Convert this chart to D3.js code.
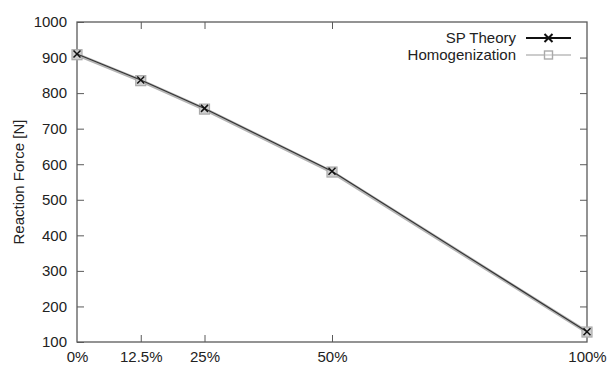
<!DOCTYPE html>
<html>
<head>
<meta charset="utf-8">
<script src="https://cdn.jsdelivr.net/npm/d3@7"></script>
<style>
  html, body { margin: 0; padding: 0; background: #fff; }
  svg { display: block; font-family: "Liberation Sans", Arial, sans-serif; }
</style>
</head>
<body>
<svg id="chart" width="611" height="365"></svg>
<script>
// Reaction force versus percentage
const xCategories = [0, 12.5, 25, 50, 100];
const xTickLabels = ["0%", "12.5%", "25%", "50%", "100%"];
const yTicks = [100, 200, 300, 400, 500, 600, 700, 800, 900, 1000];
const spTheory = [910, 837, 757, 580, 129];
const homogenization = [908, 835, 755, 578, 128];

const svg = d3.select("#chart");
const m = { left: 77, right: 587, top: 22, bottom: 342 };
const x = d3.scaleLinear().domain([0, 100]).range([m.left, m.right]);
const y = d3.scaleLinear().domain([100, 1000]).range([m.bottom, m.top]);
const frameColor = "#5a5a5a";
const tickLen = 7;

// Frame
svg.append("rect")
  .attr("x", m.left).attr("y", m.top)
  .attr("width", m.right - m.left).attr("height", m.bottom - m.top)
  .attr("fill", "none").attr("stroke", frameColor).attr("stroke-width", 1.3);

// Y axis ticks (mirrored on right) and labels
const yAxis = d3.axisLeft(y).tickValues(yTicks).tickSize(-tickLen).tickPadding(10)
  .tickFormat(d3.format("d"));
const gy = svg.append("g").attr("transform", `translate(${m.left},0)`).call(yAxis);
gy.select(".domain").remove();
gy.selectAll(".tick line").attr("stroke", frameColor);
gy.selectAll(".tick text").attr("font-size", 15).attr("fill", "#222")
  .attr("font-family", "Liberation Sans, Arial, sans-serif");

const gyR = svg.append("g").attr("transform", `translate(${m.right},0)`)
  .call(d3.axisRight(y).tickValues(yTicks.slice(1, -1)).tickSize(-tickLen).tickFormat(""));
gyR.select(".domain").remove();
gyR.selectAll(".tick line").attr("stroke", frameColor);

// X axis ticks (mirrored on top) and labels
const gx = svg.append("g").attr("transform", `translate(0,${m.bottom})`)
  .call(d3.axisBottom(x).tickValues(xCategories).tickSize(-tickLen).tickPadding(8)
    .tickFormat((d, i) => xTickLabels[i]));
gx.select(".domain").remove();
gx.selectAll(".tick line").attr("stroke", frameColor)
  .attr("display", d => (d === 0 || d === 100) ? "none" : null);
gx.selectAll(".tick text").attr("font-size", 15).attr("fill", "#222")
  .attr("font-family", "Liberation Sans, Arial, sans-serif")
  .attr("dy", null).attr("y", 20);

const gxT = svg.append("g").attr("transform", `translate(0,${m.top})`)
  .call(d3.axisTop(x).tickValues(xCategories.slice(1, -1)).tickSize(-tickLen).tickFormat(""));
gxT.select(".domain").remove();
gxT.selectAll(".tick line").attr("stroke", frameColor);

// Y axis title
svg.append("text")
  .attr("transform", `translate(24,${(m.top + m.bottom) / 2}) rotate(-90)`)
  .attr("text-anchor", "middle")
  .attr("font-size", 15).attr("fill", "#222")
  .text("Reaction Force [N]");

const line = d3.line().x((d, i) => x(xCategories[i])).y(d => y(d));

// Homogenization series: light grey line with square markers
svg.append("path").datum(homogenization)
  .attr("d", line).attr("fill", "none")
  .attr("stroke", "#b4b4b4").attr("stroke-width", 3.5);
svg.selectAll(".sq").data(homogenization).join("rect")
  .attr("x", (d, i) => x(xCategories[i]) - 5)
  .attr("y", d => y(d) - 5)
  .attr("width", 10).attr("height", 10)
  .attr("fill", "#cfcfcf").attr("stroke", "#aaa").attr("stroke-width", 1.2);

// SP Theory series: thin black line with cross markers
svg.append("path").datum(spTheory)
  .attr("d", line).attr("fill", "none")
  .attr("stroke", "#333").attr("stroke-width", 1.1);
function cross(g, cx, cy, s, w) {
  g.append("path")
    .attr("d", `M${cx - s},${cy - s}L${cx + s},${cy + s}M${cx - s},${cy + s}L${cx + s},${cy - s}`)
    .attr("stroke", "#111").attr("stroke-width", w).attr("fill", "none");
}
const crosses = svg.append("g");
spTheory.forEach((d, i) => cross(crosses, x(xCategories[i]), y(d), 3.5, 1.5));

// Legend
const legend = svg.append("g");
const legendItems = [
  { label: "SP Theory", y: 38 },
  { label: "Homogenization", y: 55 }
];
legend.selectAll("text").data(legendItems).join("text")
  .attr("x", 516).attr("y", d => d.y + 5)
  .attr("text-anchor", "end")
  .attr("font-size", 15).attr("fill", "#222")
  .text(d => d.label);
legend.append("line").attr("x1", 526).attr("x2", 571).attr("y1", 38).attr("y2", 38)
  .attr("stroke", "#111").attr("stroke-width", 2);
cross(legend, 548.5, 38, 4, 2);
legend.append("line").attr("x1", 526).attr("x2", 571).attr("y1", 55).attr("y2", 55)
  .attr("stroke", "#bbb").attr("stroke-width", 1.6);
legend.append("rect").attr("x", 544.5).attr("y", 51).attr("width", 8).attr("height", 8)
  .attr("fill", "#fff").attr("stroke", "#aaa").attr("stroke-width", 1.4);
legend.append("line").attr("x1", 545).attr("x2", 552).attr("y1", 55).attr("y2", 55)
  .attr("stroke", "#bbb").attr("stroke-width", 1);
</script>
</body>
</html>
